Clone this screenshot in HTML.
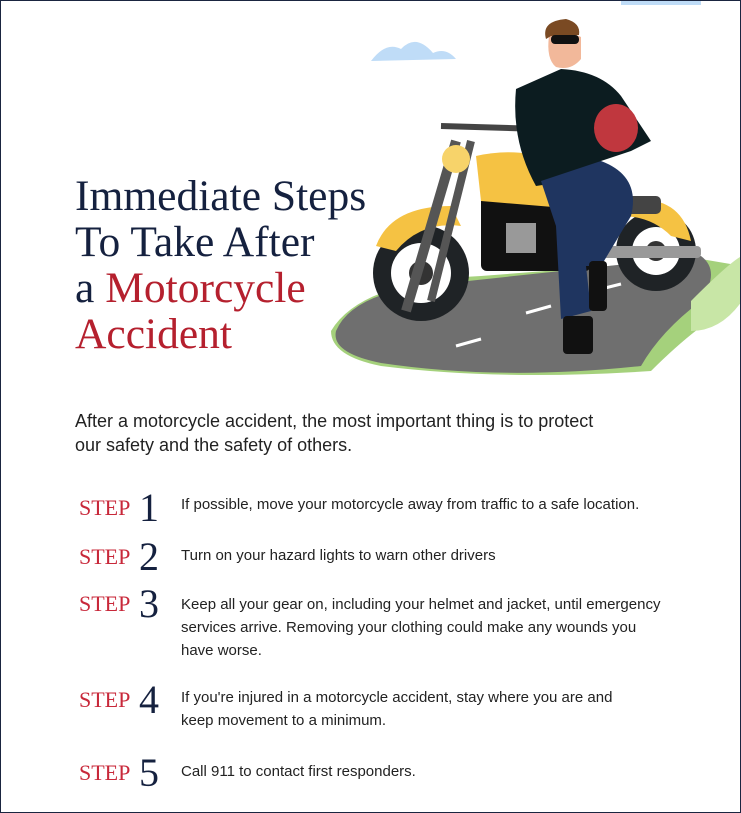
<!DOCTYPE html>
<html><head><meta charset="utf-8"><style>
body{margin:0;background:#fff}
.w{position:relative;width:739px;height:811px;border:1px solid #1a2540;overflow:hidden;background:#fff;font-family:"Liberation Sans",sans-serif}
.t{position:absolute;left:74px;top:172px;font-family:"Liberation Serif",serif;font-size:43.5px;line-height:46px;color:#15213f}
.r{color:#b5202e}
.intro{position:absolute;left:74px;top:408px;font-size:18px;line-height:24px;color:#222;white-space:nowrap}
.s{position:absolute;left:78px;font-family:"Liberation Serif",serif;color:#c8283a;font-size:22px}
.n{position:absolute;left:138px;font-family:"Liberation Serif",serif;color:#15213f;font-size:40px;line-height:40px}
.x{position:absolute;left:180px;font-size:15px;line-height:23px;color:#222;white-space:nowrap}
</style></head><body><div class="w">
<svg style="position:absolute;left:0;top:0" width="741" height="400">
<path d="M370 60 Q385 40 400 48 Q415 32 432 52 Q445 46 455 58 Z" fill="#bfdcf7"/>
<rect x="620" y="0" width="80" height="4" fill="#bfdcf7"/>
<path d="M330 330 Q360 280 480 275 L700 258 L741 265 L741 300 Q700 320 650 370 Q500 380 380 365 Q330 355 330 330Z" fill="#a5d17c"/>
<path d="M335 330 Q350 295 420 285 L700 255 Q720 270 700 300 Q660 330 640 365 Q500 380 380 362 Q330 352 335 330Z" fill="#6f6f6f"/>
<path d="M455 345 L480 338 M525 312 L550 305 M600 288 L620 283" stroke="#fff" stroke-width="3"/>
<circle cx="420" cy="272" r="48" fill="#1f2326"/><circle cx="420" cy="272" r="30" fill="#fff"/><circle cx="420" cy="272" r="12" fill="#333"/>
<circle cx="655" cy="250" r="40" fill="#1f2326"/><circle cx="655" cy="250" r="24" fill="#fff"/><circle cx="655" cy="250" r="10" fill="#333"/>
<path d="M375 245 Q390 205 450 205 L460 225 Q420 220 395 250Z" fill="#f5c243"/>
<path d="M620 200 Q680 190 690 240 L670 235 Q650 215 620 215Z" fill="#f5c243"/>
<rect x="480" y="190" width="110" height="80" fill="#111" rx="6"/>
<rect x="505" y="222" width="30" height="30" fill="#999"/>
<path d="M475 155 Q540 140 600 185 L600 210 L480 200Z" fill="#f5c243"/>
<rect x="600" y="195" width="60" height="18" fill="#444" rx="5"/>
<rect x="600" y="245" width="100" height="12" fill="#999" rx="4"/>
<path d="M455 140 L405 310" stroke="#555" stroke-width="10"/>
<path d="M470 140 L430 300" stroke="#555" stroke-width="8"/>
<circle cx="455" cy="158" r="14" fill="#f7d36a"/>
<path d="M440 125 L540 128" stroke="#444" stroke-width="6"/>
<path d="M515 88 L560 68 Q600 70 620 95 L650 140 L630 150 L600 160 L600 175 L535 185 Q510 140 515 88Z" fill="#0c1c20"/>
<path d="M548 35 Q565 28 580 36 L580 58 Q570 70 555 66 Q545 58 548 35Z" fill="#f2b89a"/>
<path d="M545 38 Q540 20 565 18 Q580 22 578 34 L550 35Z" fill="#7a4a23"/>
<rect x="550" y="34" width="28" height="9" fill="#111" rx="4"/>
<path d="M540 180 L600 160 Q640 175 630 215 L600 265 L585 265 L590 310 L560 318 L555 225 Z" fill="#1f3560"/>
<ellipse cx="615" cy="127" rx="22" ry="24" fill="#c0373e"/>
<rect x="562" y="315" width="30" height="38" fill="#111" rx="4"/>
<rect x="588" y="260" width="18" height="50" fill="#111" rx="4"/>
<path d="M690 300 Q730 260 741 255 L741 300 Q720 330 690 330Z" fill="#c8e6a6"/>
</svg>
<div class="t">Immediate Steps<br>To Take After<br>a <span class="r">Motorcycle</span><br><span class="r">Accident</span></div>
<div class="intro">After a motorcycle accident, the most important thing is to protect<br>our safety and the safety of others.</div>
<div class="s" style="top:494px">STEP</div><div class="n" style="top:487px">1</div><div class="x" style="top:492px">If possible, move your motorcycle away from traffic to a safe location.</div>
<div class="s" style="top:543px">STEP</div><div class="n" style="top:536px">2</div><div class="x" style="top:543px">Turn on your hazard lights to warn other drivers</div>
<div class="s" style="top:590px">STEP</div><div class="n" style="top:583px">3</div><div class="x" style="top:592px">Keep all your gear on, including your helmet and jacket, until emergency<br>services arrive. Removing your clothing could make any wounds you<br>have worse.</div>
<div class="s" style="top:686px">STEP</div><div class="n" style="top:679px">4</div><div class="x" style="top:685px">If you're injured in a motorcycle accident, stay where you are and<br>keep movement to a minimum.</div>
<div class="s" style="top:759px">STEP</div><div class="n" style="top:752px">5</div><div class="x" style="top:759px">Call 911 to contact first responders.</div>
</div></body></html>
